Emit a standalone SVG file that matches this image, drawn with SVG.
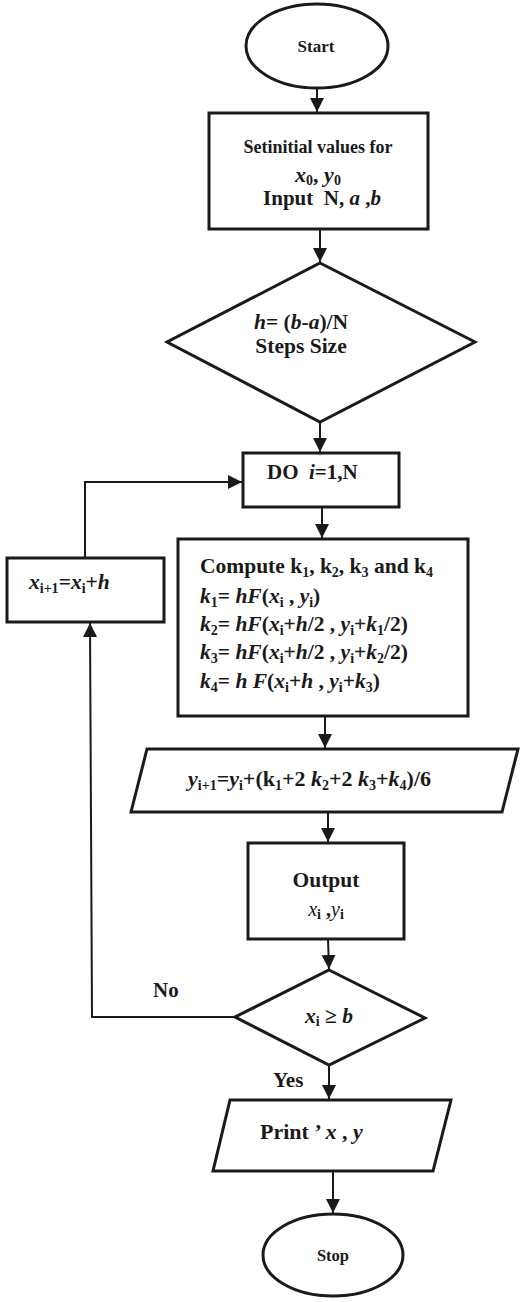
<svg xmlns="http://www.w3.org/2000/svg" width="523" height="1302" viewBox="0 0 523 1302">
<style>
text{font-family:"Liberation Serif","Times New Roman",serif;font-weight:bold;fill:#1a1a1a}
.n{fill:#fff;stroke:#1a1a1a;stroke-width:3}
.c{fill:none;stroke:#1a1a1a;stroke-width:2}
.i{font-style:italic}
.s{font-size:14px;font-style:normal}
</style>
<defs>
<marker id="ah" markerUnits="userSpaceOnUse" markerWidth="16" markerHeight="16" refX="14" refY="7" orient="auto">
<path d="M0,0 L14,7 L0,14 z" fill="#1a1a1a"/>
</marker>
</defs>
<rect width="523" height="1302" fill="#fff"/>
<g id="connectors">
<line class="c" x1="317" y1="88" x2="317" y2="112" marker-end="url(#ah)"/>
<line class="c" x1="320" y1="229" x2="320" y2="262" marker-end="url(#ah)"/>
<line class="c" x1="320" y1="422" x2="320" y2="452" marker-end="url(#ah)"/>
<line class="c" x1="322" y1="507" x2="322" y2="538" marker-end="url(#ah)"/>
<line class="c" x1="325" y1="716" x2="325" y2="748" marker-end="url(#ah)"/>
<line class="c" x1="328" y1="812" x2="328" y2="842" marker-end="url(#ah)"/>
<line class="c" x1="328" y1="939" x2="329" y2="969" marker-end="url(#ah)"/>
<line class="c" x1="329" y1="1065" x2="329" y2="1099" marker-end="url(#ah)"/>
<line class="c" x1="333" y1="1171" x2="333" y2="1213" marker-end="url(#ah)"/>
<polyline class="c" points="235,1017 92,1017 90,623" marker-end="url(#ah)"/>
<polyline class="c" points="85,558 85,482 242,482" marker-end="url(#ah)"/>
<text x="153" y="997" font-size="21">No</text>
<text x="273" y="1087" font-size="21">Yes</text>
</g>
<g id="start">
<ellipse class="n" cx="317" cy="46" rx="71" ry="42"/>
<text x="316" y="52" font-size="17" text-anchor="middle">Start</text>
</g>
<g id="init">
<rect class="n" x="209" y="113" width="219" height="116"/>
<text x="318" y="153" font-size="18" text-anchor="middle">Setinitial values for</text>
<text x="318" y="182" font-size="22" text-anchor="middle" font-weight="normal"><tspan class="i">x</tspan><tspan class="s" font-size="15" dy="3">0</tspan><tspan dy="-3">, </tspan><tspan class="i">y</tspan><tspan class="s" font-size="15" dy="3">0</tspan></text>
<text x="322" y="205" font-size="21" text-anchor="middle">Input&#160; N, <tspan class="i">a</tspan> ,<tspan class="i">b</tspan></text>
</g>
<g id="stepsize">
<polygon class="n" points="320,263 475,342 320,422 167,342"/>
<text x="301" y="329" font-size="21.5" text-anchor="middle"><tspan class="i">h</tspan>= (<tspan class="i">b</tspan>-<tspan class="i">a</tspan>)/N</text>
<text x="301" y="353" font-size="21.5" text-anchor="middle">Steps Size</text>
</g>
<g id="doloop">
<rect class="n" x="243" y="453" width="156" height="54"/>
<text x="267" y="479" font-size="21">DO&#160; <tspan class="i">i</tspan>=1,N</text>
</g>
<g id="compute">
<rect class="n" x="178" y="539" width="290" height="177"/>
<text x="200" y="573" font-size="21.5">Compute k<tspan class="s" dy="4">1</tspan><tspan dy="-4">, k</tspan><tspan class="s" dy="4">2</tspan><tspan dy="-4">, k</tspan><tspan class="s" dy="4">3</tspan><tspan dy="-4"> and k</tspan><tspan class="s" dy="4">4</tspan></text>
<text x="200" y="603" font-size="21.5"><tspan class="i">k</tspan><tspan class="s" dy="4">1</tspan><tspan dy="-4">= </tspan><tspan class="i">hF</tspan>(<tspan class="i">x</tspan><tspan class="s" dy="4">i</tspan><tspan dy="-4"> , </tspan><tspan class="i">y</tspan><tspan class="s" dy="4">i</tspan><tspan dy="-4">)</tspan></text>
<text x="200" y="631" font-size="21.5"><tspan class="i">k</tspan><tspan class="s" dy="4">2</tspan><tspan dy="-4">= </tspan><tspan class="i">hF</tspan>(<tspan class="i">x</tspan><tspan class="s" dy="4">i</tspan><tspan dy="-4">+</tspan><tspan class="i">h</tspan>/2 , <tspan class="i">y</tspan><tspan class="s" dy="4">i</tspan><tspan dy="-4">+</tspan><tspan class="i">k</tspan><tspan class="s" dy="4">1</tspan><tspan dy="-4">/2)</tspan></text>
<text x="200" y="659" font-size="21.5"><tspan class="i">k</tspan><tspan class="s" dy="4">3</tspan><tspan dy="-4">= </tspan><tspan class="i">hF</tspan>(<tspan class="i">x</tspan><tspan class="s" dy="4">i</tspan><tspan dy="-4">+</tspan><tspan class="i">h</tspan>/2 , <tspan class="i">y</tspan><tspan class="s" dy="4">i</tspan><tspan dy="-4">+</tspan><tspan class="i">k</tspan><tspan class="s" dy="4">2</tspan><tspan dy="-4">/2)</tspan></text>
<text x="200" y="688" font-size="21.5"><tspan class="i">k</tspan><tspan class="s" dy="4">4</tspan><tspan dy="-4">= </tspan><tspan class="i">h F</tspan>(<tspan class="i">x</tspan><tspan class="s" dy="4">i</tspan><tspan dy="-4">+</tspan><tspan class="i">h</tspan> , <tspan class="i">y</tspan><tspan class="s" dy="4">i</tspan><tspan dy="-4">+</tspan><tspan class="i">k</tspan><tspan class="s" dy="4">3</tspan><tspan dy="-4">)</tspan></text>
</g>
<g id="increment">
<rect class="n" x="7" y="558" width="157" height="64"/>
<text x="29" y="589" font-size="21.5"><tspan class="i">x</tspan><tspan class="s" dy="4">i+1</tspan><tspan dy="-4">=</tspan><tspan class="i">x</tspan><tspan class="s" dy="4">i</tspan><tspan dy="-4">+</tspan><tspan class="i">h</tspan></text>
</g>
<g id="update">
<polygon class="n" points="147,749 518,749 502,812 131,812"/>
<text x="188" y="786" font-size="22"><tspan class="i">y</tspan><tspan class="s" dy="4">i+1</tspan><tspan dy="-4">=</tspan><tspan class="i">y</tspan><tspan class="s" dy="4">i</tspan><tspan dy="-4">+(k</tspan><tspan class="s" dy="4">1</tspan><tspan dy="-4">+2 </tspan><tspan class="i">k</tspan><tspan class="s" dy="4">2</tspan><tspan dy="-4">+2 </tspan><tspan class="i">k</tspan><tspan class="s" dy="4">3</tspan><tspan dy="-4">+</tspan><tspan class="i">k</tspan><tspan class="s" dy="4">4</tspan><tspan dy="-4">)/6</tspan></text>
</g>
<g id="output">
<rect class="n" x="248" y="843" width="156" height="96"/>
<text x="326" y="887" font-size="21.5" text-anchor="middle">Output</text>
<text x="326" y="916" font-size="20" text-anchor="middle"><tspan class="i" font-weight="normal">x</tspan><tspan class="s" dy="3">i</tspan><tspan dy="-3"> ,</tspan><tspan class="i" font-weight="normal">y</tspan><tspan class="s" dy="3">i</tspan></text>
</g>
<g id="check">
<polygon class="n" points="329,970 425,1018 329,1065 235,1017"/>
<text x="329" y="1023" font-size="21.5" text-anchor="middle" font-weight="normal"><tspan class="i">x</tspan><tspan class="s" font-weight="bold" dy="3">i</tspan><tspan dy="-3"> ≥ </tspan><tspan class="i">b</tspan></text>
</g>
<g id="print">
<polygon class="n" points="230,1100 451,1100 433,1171 213,1171"/>
<text x="260" y="1139" font-size="22">Print ’ <tspan class="i">x</tspan> , <tspan class="i">y</tspan></text>
</g>
<g id="stop">
<ellipse class="n" cx="333" cy="1255" rx="70" ry="41"/>
<text x="333" y="1261" font-size="16.5" text-anchor="middle">Stop</text>
</g>
</svg>
